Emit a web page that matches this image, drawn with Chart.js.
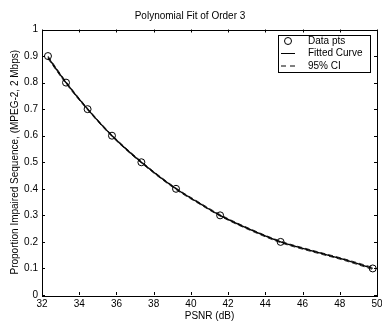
<!DOCTYPE html>
<html><head><meta charset="utf-8">
<script src="https://cdn.jsdelivr.net/npm/chart.js@4/dist/chart.umd.min.js"></script>
<style>html,body{margin:0;padding:0;background:#fff}#wrap{width:382px;height:322px}</style>
</head><body><div id="wrap"><canvas id="c" width="382" height="322"></canvas></div>
<script>
const dataX = [32.32, 33.29, 34.45, 35.76, 37.34, 39.2, 41.57, 44.82, 49.77];
const dataY = [0.9, 0.8, 0.7, 0.6, 0.5, 0.4, 0.3, 0.2, 0.1];
const fitX = [32.32, 33.29, 34.45, 35.76, 37.34, 39.2, 40.4, 41.57, 43.2, 44.82, 46.5, 48.2, 49.77];
const fitY = [0.895, 0.8, 0.7, 0.6, 0.5, 0.4, 0.348, 0.3, 0.246, 0.2, 0.166, 0.134, 0.1];
const ciUpY = [0.9, 0.804, 0.703, 0.603, 0.503, 0.403, 0.351, 0.303, 0.249, 0.203, 0.169, 0.137, 0.104];
const ciLoY = [0.89, 0.796, 0.697, 0.597, 0.497, 0.397, 0.345, 0.297, 0.243, 0.197, 0.163, 0.131, 0.096];
const xTicks = [32, 34, 36, 38, 40, 42, 44, 46, 48, 50];
const yTicks = [0, 0.1, 0.2, 0.3, 0.4, 0.5, 0.6, 0.7, 0.8, 0.9, 1];
const titleText = 'Polynomial Fit of Order 3';
const xTitle = 'PSNR (dB)';
const yTitle = 'Proportion Impaired Sequence, (MPEG-2, 2 Mbps)';
const legendLabels = ['Data pts', 'Fitted Curve', '95% CI'];

const FONT = 'Liberation Sans, Arial, sans-serif';
const pts = (xs, ys) => xs.map((x, i) => ({x, y: ys[i]}));

const frame = {
  id: 'frame',
  afterDatasetsDraw(chart) {
    const {ctx, chartArea: a, scales} = chart;
    ctx.save();
    ctx.strokeStyle = '#000';
    ctx.lineWidth = 1;
    ctx.strokeRect(Math.round(a.left) + 0.5, Math.round(a.top) + 0.5, Math.round(a.right - a.left), Math.round(a.bottom - a.top));
    ctx.beginPath();
    const tl = 3;
    xTicks.forEach(v => {
      const px = Math.round(scales.x.getPixelForValue(v)) + 0.5;
      ctx.moveTo(px, a.bottom); ctx.lineTo(px, a.bottom - tl);
      ctx.moveTo(px, a.top); ctx.lineTo(px, a.top + tl);
    });
    yTicks.forEach(v => {
      const py = Math.round(scales.y.getPixelForValue(v)) + 0.5;
      ctx.moveTo(a.left, py); ctx.lineTo(a.left + tl, py);
      ctx.moveTo(a.right, py); ctx.lineTo(a.right - tl, py);
    });
    ctx.stroke();
    // legend box
    const bx = 278.5, by = 35.5, bw = 92, bh = 37;
    ctx.fillStyle = '#fff';
    ctx.fillRect(bx, by, bw, bh);
    ctx.strokeRect(bx, by, bw, bh);
    ctx.font = '10px ' + FONT;
    ctx.fillStyle = '#000';
    ctx.textBaseline = 'middle';
    ctx.textAlign = 'left';
    const rows = [41, 53.5, 66];
    const lx0 = 281, lx1 = 295, tx = 308;
    ctx.beginPath(); ctx.arc((lx0 + lx1) / 2, rows[0], 3.5, 0, Math.PI * 2); ctx.stroke();
    ctx.beginPath(); ctx.moveTo(lx0, rows[1]); ctx.lineTo(lx1, rows[1]); ctx.stroke();
    ctx.setLineDash([5, 4]);
    ctx.beginPath(); ctx.moveTo(lx0, rows[2]); ctx.lineTo(lx1, rows[2]); ctx.stroke();
    ctx.setLineDash([]);
    legendLabels.forEach((t, i) => ctx.fillText(t, tx, rows[i]));
    ctx.restore();
  }
};

new Chart(document.getElementById('c'), {
  type: 'scatter',
  data: {
    datasets: [
      {label: legendLabels[0], data: pts(dataX, dataY), showLine: false, pointStyle: 'circle', pointRadius: 3.5, pointBorderWidth: 1, pointBorderColor: '#000', pointBackgroundColor: 'rgba(0,0,0,0)', order: 0},
      {label: legendLabels[1], data: pts(fitX, fitY), showLine: true, borderColor: '#000', borderWidth: 1.3, pointRadius: 0, cubicInterpolationMode: 'monotone', order: 1},
      {label: legendLabels[2] + ' upper', data: pts(fitX, ciUpY), showLine: true, borderColor: '#000', borderWidth: 0.8, borderDash: [5, 3], pointRadius: 0, cubicInterpolationMode: 'monotone', order: 2},
      {label: legendLabels[2] + ' lower', data: pts(fitX, ciLoY), showLine: true, borderColor: '#000', borderWidth: 0.8, borderDash: [5, 3], pointRadius: 0, cubicInterpolationMode: 'monotone', order: 2}
    ]
  },
  options: {
    responsive: false,
    animation: false,
    devicePixelRatio: 1,
    layout: {padding: {left: 0, right: 2, top: 0, bottom: 0}},
    plugins: {
      legend: {display: false},
      tooltip: {enabled: false},
      title: {display: true, text: titleText, color: '#000', font: {family: FONT, size: 10, weight: 'normal'}, padding: {top: 10.7, bottom: 6.8}}
    },
    scales: {
      x: {
        type: 'linear', min: 32, max: 50,
        afterBuildTicks: s => { s.ticks = xTicks.map(v => ({value: v})); },
        afterFit: s => { s.height = 27; s.paddingLeft = 0; s.paddingRight = 0; },
        grid: {display: false, drawTicks: false},
        border: {display: false},
        ticks: {color: '#000', font: {family: FONT, size: 10}, padding: 3, maxRotation: 0, autoSkip: false},
        title: {display: true, text: xTitle, color: '#000', font: {family: FONT, size: 10}, padding: {top: 0, bottom: 0}}
      },
      y: {
        type: 'linear', min: 0, max: 1,
        afterBuildTicks: s => { s.ticks = yTicks.map(v => ({value: v})); },
        afterFit: s => { s.width = 42; s.paddingTop = 0; s.paddingBottom = 0; },
        grid: {display: false, drawTicks: false},
        border: {display: false},
        ticks: {color: '#000', font: {family: FONT, size: 10}, padding: 4, autoSkip: false, callback: v => String(Math.round(v * 10) / 10)},
        title: {display: true, text: yTitle, color: '#000', font: {family: FONT, size: 10}, padding: {top: 9, bottom: 0}}
      }
    }
  },
  plugins: [frame]
});
</script></body></html>
